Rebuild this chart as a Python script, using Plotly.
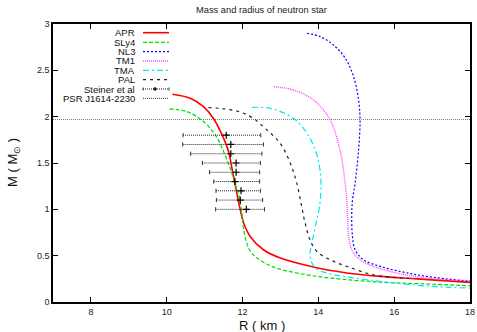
import plotly.graph_objects as go

# ---- data ----
apr_r = [10.15, 10.62, 10.97, 11.23, 11.46, 11.63, 11.72, 11.80, 11.86, 11.94, 12.03, 12.2, 12.55, 13.0, 13.87, 14.75, 15.63, 16.6, 18.0]
apr_m = [2.242, 2.199, 2.108, 1.983, 1.803, 1.623, 1.444, 1.28, 1.15, 0.995, 0.852, 0.707, 0.564, 0.474, 0.377, 0.313, 0.276, 0.25, 0.212]

sly4_r = [10.07, 10.53, 10.97, 11.28, 11.50, 11.675, 11.80, 11.90, 11.97, 12.03, 12.11, 12.2, 12.38, 12.82, 13.43, 14.31, 15.63, 16.8, 18.0]
sly4_m = [2.084, 2.055, 1.947, 1.803, 1.623, 1.444, 1.28, 1.15, 1.0, 0.78, 0.636, 0.55, 0.474, 0.377, 0.313, 0.259, 0.215, 0.195, 0.176]

nl3_r = [13.70, 14.05, 14.40, 14.71, 14.93, 15.06, 15.10, 15.06, 14.97, 14.90, 14.88, 14.90, 14.97, 15.19, 15.63, 16.24, 16.86, 18.0]
nl3_m = [2.90, 2.863, 2.773, 2.63, 2.432, 2.18, 1.965, 1.64, 1.283, 1.1, 0.923, 0.707, 0.564, 0.456, 0.384, 0.323, 0.276, 0.223]

tm1_r = [12.82, 13.34, 13.87, 14.31, 14.57, 14.70, 14.75, 14.77, 14.80, 14.88, 15.10, 15.45, 16.07, 16.86, 18.0]
tm1_m = [2.324, 2.288, 2.18, 1.965, 1.64, 1.3, 1.1, 0.9, 0.707, 0.564, 0.456, 0.384, 0.313, 0.259, 0.23]

tma_r = [12.25, 12.73, 13.34, 13.70, 13.92, 14.03, 14.07, 14.03, 13.92, 13.83, 13.78, 13.92, 14.22, 15.28, 17.0, 18.0]
tma_m = [2.10, 2.09, 1.983, 1.82, 1.64, 1.46, 1.283, 1.03, 0.815, 0.636, 0.49, 0.366, 0.313, 0.24, 0.168, 0.151]

pal_r = [11.10, 11.5, 11.94, 12.28, 12.64, 12.99, 13.26, 13.43, 13.56, 13.65, 13.78, 13.96, 14.31, 14.75, 15.45, 16.4]
pal_m = [2.098, 2.085, 2.05, 1.983, 1.857, 1.714, 1.498, 1.283, 1.03, 0.852, 0.672, 0.545, 0.456, 0.384, 0.294, 0.255]

steiner_m = [1.8, 1.7, 1.6, 1.5, 1.4, 1.3, 1.2, 1.1, 1.0]
steiner_r = [11.57, 11.69, 11.69, 11.83, 11.83, 11.80, 11.96, 11.94, 12.10]
steiner_lo = [10.43, 10.42, 10.63, 10.94, 11.13, 11.24, 11.30, 11.31, 11.29]
steiner_hi = [12.48, 12.55, 12.51, 12.47, 12.45, 12.45, 12.47, 12.53, 12.58]

psr_mass = 1.97

x_ticks = [8, 10, 12, 14, 16, 18]
y_ticks = [0, 0.5, 1, 1.5, 2, 2.5, 3]

FONT = "Liberation Sans, Arial, sans-serif"

styles = [
    ("APR", apr_r, apr_m, "#ff0000", "solid", 1.6),
    ("SLy4", sly4_r, sly4_m, "#00dd00", "4px,2px", 1.2),
    ("NL3", nl3_r, nl3_m, "#0000ff", "2px,2px", 1.2),
    ("TM1", tm1_r, tm1_m, "#ff44ff", "1px,1px", 1.4),
    ("TMA", tma_r, tma_m, "#00e8f0", "6px,3px,2px,3px", 1.2),
    ("PAL", pal_r, pal_m, "#222222", "3px,4px", 1.2),
]

fig = go.Figure()

# PSR horizontal line
fig.add_trace(go.Scatter(x=[7, 18], y=[psr_mass, psr_mass], mode="lines",
                         line=dict(color="#777777", width=1, dash="1px,1px"),
                         showlegend=False, hoverinfo="skip"))

for name, r, m, col, dash, w in styles:
    fig.add_trace(go.Scatter(x=r, y=m, mode="lines", name=name,
                             line=dict(color=col, width=w, dash=dash, shape="spline", smoothing=1.0),
                             showlegend=False))

# Steiner error bars
ex, ey = [], []
for lo, hi, mm in zip(steiner_lo, steiner_hi, steiner_m):
    ex += [lo, hi, None]
    ey += [mm, mm, None]
fig.add_trace(go.Scatter(x=ex, y=ey, mode="lines",
                         line=dict(color="#222222", width=1, dash="1px,1px"),
                         showlegend=False, hoverinfo="skip"))
fig.add_trace(go.Scatter(x=steiner_lo + steiner_hi, y=steiner_m + steiner_m, mode="markers",
                         marker=dict(symbol="line-ns", size=3, line=dict(color="#333333", width=1)),
                         showlegend=False, hoverinfo="skip"))
fig.add_trace(go.Scatter(x=steiner_r, y=steiner_m, mode="markers",
                         marker=dict(symbol="cross-thin", size=5, line=dict(color="#000000", width=1.2)),
                         showlegend=False))

# ---- custom legend (gnuplot style: label left, sample right) ----
L, R_, T, B = 53, 7, 24, 30
W, H = 477, 332
pw, ph = W - L - R_, H - T - B

def px(xp):
    return (xp - L) / pw

def py(yp):
    return (H - B - yp) / ph

labels = ["APR", "SLy4", "NL3", "TM1", "TMA", "PAL", "Steiner et al", "PSR J1614-2230"]
sample = [(s[3], s[4], s[5]) for s in styles] + [("#222222", "1px,1px", 1), ("#333333", "1px,1px", 1)]
rows = [32.7, 42.3, 51.7, 61.0, 70.3, 79.7, 89.0, 98.3]
annotations = []
shapes = []
for lab, (col, dash, w), yr in zip(labels, sample, rows):
    annotations.append(dict(x=px(137), y=py(yr), xref="paper", yref="paper", text=lab,
                            showarrow=False, xanchor="right", yanchor="middle",
                            font=dict(family=FONT, size=9.5, color="#111111")))
    shapes.append(dict(type="line", xref="paper", yref="paper", x0=px(143), x1=px(169),
                       y0=py(yr), y1=py(yr), line=dict(color=col, width=w, dash=dash)))
# steiner sample decorations
ys = rows[6]
for xx in (143, 169):
    shapes.append(dict(type="line", xref="paper", yref="paper", x0=px(xx), x1=px(xx),
                       y0=py(ys - 1.5), y1=py(ys + 1.5), line=dict(color="#333333", width=1)))
shapes.append(dict(type="line", xref="paper", yref="paper", x0=px(153), x1=px(157),
                   y0=py(ys), y1=py(ys), line=dict(color="#000000", width=1.2)))
shapes.append(dict(type="line", xref="paper", yref="paper", x0=px(155), x1=px(155),
                   y0=py(ys - 2), y1=py(ys + 2), line=dict(color="#000000", width=1.2)))

# axis titles
annotations.append(dict(x=0.5, y=py(325), xref="paper", yref="paper", text="R ( km )",
                        showarrow=False, xanchor="center", yanchor="middle",
                        font=dict(family=FONT, size=13, color="#111111")))
annotations.append(dict(x=px(13), y=0.5, xref="paper", yref="paper", text="M ( M<sub>⊙</sub> )",
                        showarrow=False, xanchor="center", yanchor="middle", textangle=-90,
                        font=dict(family=FONT, size=13, color="#111111")))
annotations.append(dict(x=0.5, y=py(10), xref="paper", yref="paper", text="Mass and radius of neutron star",
                        showarrow=False, xanchor="center", yanchor="middle",
                        font=dict(family=FONT, size=9.3, color="#222222")))

axis_common = dict(showline=True, linecolor="#000000", linewidth=1.5, mirror="ticks",
                   ticks="inside", ticklen=5, tickwidth=1, tickcolor="#000000",
                   showgrid=False, zeroline=False,
                   tickfont=dict(family=FONT, size=9, color="#222222"))

fig.update_layout(
    width=W, height=H,
    margin=dict(l=L, r=R_, t=T, b=B, autoexpand=False),
    paper_bgcolor="white", plot_bgcolor="white",
    showlegend=False,
    xaxis=dict(range=[7, 18], tickvals=x_ticks, ticktext=[str(t) for t in x_ticks], **axis_common),
    yaxis=dict(range=[0, 3], tickvals=y_ticks, ticktext=["0", "0.5", "1", "1.5", "2", "2.5", "3"], **axis_common),
    annotations=annotations,
    shapes=shapes,
)

fig.write_html("out.html", config={"displayModeBar": False},
               post_script="document.body.style.margin='0';document.body.style.padding='0';")
